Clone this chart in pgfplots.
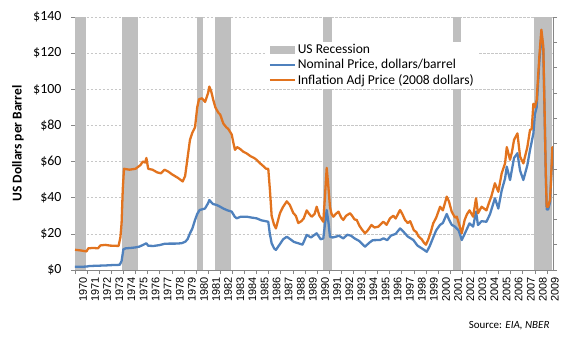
\documentclass[border=0pt]{standalone}
\usepackage{fontspec}
\setmainfont{Carlito}
\newfontfamily\arialf{Liberation Sans}
\usepackage{pgfplots}
\pgfplotsset{compat=1.18}
\definecolor{bandgray}{HTML}{BFBFBF}
\definecolor{nomblue}{HTML}{4F81BD}
\definecolor{adjorange}{HTML}{E2731E}
\definecolor{axgray}{HTML}{868686}
\begin{document}
\begin{tikzpicture}
\begin{axis}[name=ax,
  scale only axis, width=478bp, height=253bp,
  xmin=1970, xmax=2009.5, ymin=0, ymax=140,
  axis x line*=bottom, axis y line*=left,
  axis line style={axgray, line width=0.6pt},
  every tick/.style={axgray, line width=0.6pt},
  tick align=outside, major tick length=4bp,
  xtick={1970,1971,...,2009},
  ytick={0,20,...,140},
  yticklabels={\$0,\$20,\$40,\$60,\$80,\$100,\$120,\$140},
  yticklabel style={font=\fontsize{14}{15}\selectfont, xshift=-6bp},
  xticklabel style={rotate=90, anchor=east, font=\arialf\fontsize{11}{11}\selectfont, yshift=-8bp},
  /pgf/number format/assume math mode=true,
  /pgf/number format/1000 sep={},
  ymajorgrids, major grid style={black!22, dash pattern=on 2.5bp off 1.5bp, line width=0.6pt},
  every axis y label/.style={at={(axis description cs:0,0.5)}, xshift=-57bp, rotate=90, anchor=center},
  ylabel={\bfseries US Dollars per Barrel},
  ylabel style={font=\bfseries\fontsize{13.5}{14}\selectfont},
  legend cell align=left,
  legend style={at={(axis cs:1985.75,126.5)}, anchor=north west, draw=none, fill=white,
    font=\fontsize{13.6}{15}\selectfont, inner xsep=3bp, inner ysep=1bp, row sep=0pt,
    nodes={inner sep=2bp}},
  legend image code/.code={\draw[#1, line width=2pt] (0bp,0bp) -- (25bp,0bp);},
]
\addplot[fill=bandgray, draw=none, legend image code/.code={\fill[bandgray] (0bp,-4bp) rectangle (25bp,4bp);}]
  coordinates {(1970,0) (1970,140) (1970.9,140) (1970.9,0)} -- cycle;
\addlegendentry{US Recession}
\addplot[fill=bandgray, draw=none, forget plot] coordinates {(1973.85,0) (1973.85,140) (1975.2,140) (1975.2,0)} -- cycle;
\addplot[fill=bandgray, draw=none, forget plot] coordinates {(1980.05,0) (1980.05,140) (1980.58,140) (1980.58,0)} -- cycle;
\addplot[fill=bandgray, draw=none, forget plot] coordinates {(1981.55,0) (1981.55,140) (1982.9,140) (1982.9,0)} -- cycle;
\addplot[fill=bandgray, draw=none, forget plot] coordinates {(1990.52,0) (1990.52,140) (1991.22,140) (1991.22,0)} -- cycle;
\addplot[fill=bandgray, draw=none, forget plot] coordinates {(2001.2,0) (2001.2,140) (2001.9,140) (2001.9,0)} -- cycle;
\addplot[fill=bandgray, draw=none, forget plot] coordinates {(2007.96,0) (2007.96,140) (2009.45,140) (2009.45,0)} -- cycle;
% Nominal
\addplot[nomblue, line width=2.3pt, line join=round] coordinates {
(1970.0,1.8)(1970.5,1.8)(1970.95,1.9)(1971.2,2.2)(1971.6,2.3)(1972.0,2.4)(1972.5,2.5)(1973.0,2.7)(1973.5,2.8)(1973.7,2.9)
(1973.85,5)(1974.0,11.5)(1974.2,12)(1974.6,12.2)(1975.0,12.5)(1975.3,12.9)(1975.6,13.8)(1975.9,14.8)(1976.05,13.4)(1976.5,13.3)
(1977.0,13.8)(1977.4,14.5)(1977.8,14.6)(1978.3,14.6)(1978.8,14.8)(1979.1,15.6)(1979.3,17)(1979.5,20.3)(1979.7,23)(1979.92,27.7)
(1980.1,31)(1980.3,33.2)(1980.74,34)(1981.0,37)(1981.1,38.7)(1981.4,36.5)(1981.7,36)(1982.0,35)(1982.26,34)(1982.6,33)
(1982.95,32.3)(1983.2,29.5)(1983.36,28.6)(1983.7,29.5)(1984.19,29.5)(1984.6,29)(1985.0,28.6)(1985.4,27.5)(1985.97,26.7)(1986.1,20)
(1986.25,14.8)(1986.45,12)(1986.6,11.1)(1986.9,14)(1987.2,17)(1987.5,18.4)(1987.8,17)(1988.1,15.5)(1988.45,14.8)(1988.8,14)
(1989.15,19.4)(1989.5,18)(1989.97,20.3)(1990.3,17)(1990.52,17.5)(1990.65,25)(1990.8,33.2)(1990.95,26)(1991.07,18.4)(1991.3,18)
(1991.6,18.5)(1991.8,19)(1992.17,17.5)(1992.5,19.5)(1992.8,19)(1993.1,17.5)(1993.5,16)(1993.97,12.9)(1994.3,15)(1994.6,16.5)
(1995.2,16.6)(1995.5,17.5)(1995.8,16.5)(1996.1,19)(1996.5,20)(1996.86,23)(1997.1,21.5)(1997.5,18.5)(1997.96,16.6)(1998.3,13.5)
(1998.65,12)(1999.07,10.1)(1999.3,13)(1999.6,18)(1999.85,22)(2000.17,25)(2000.4,26)(2000.72,31)(2000.9,28)(2001.13,25)
(2001.4,24)(2001.7,22)(2001.96,16.6)(2002.2,20)(2002.6,25.8)(2002.9,24)(2003.14,32.3)(2003.3,24.9)(2003.6,27)(2004.0,26.7)
(2004.3,31)(2004.7,39.7)(2004.98,34)(2005.26,44)(2005.54,50.7)(2005.68,57.2)(2005.95,49.8)(2006.28,62)(2006.56,64.6)(2006.78,55)
(2007.05,49.8)(2007.38,58)(2007.6,66.4)(2007.88,75.6)(2008.0,86)(2008.15,90)(2008.37,115)(2008.54,131)(2008.7,121)(2008.8,88)
(2008.9,54)(2008.98,33.5)(2009.1,33.5)(2009.26,37.5)(2009.4,58)(2009.45,66)(2009.5,64)
};
\addlegendentry{Nominal Price, dollars/barrel}
% Inflation adjusted
\addplot[adjorange, line width=2.3pt, line join=round] coordinates {
(1970.0,11.2)(1970.5,10.8)(1970.95,10.3)(1971.1,12.0)(1971.5,12.2)(1971.9,12.0)(1972.1,13.6)(1972.5,13.9)(1972.9,13.5)(1973.3,13.4)
(1973.6,13.3)(1973.75,18)(1973.85,26)(1973.95,45)(1974.05,56)(1974.5,55.5)(1975.0,56)(1975.4,58)(1975.6,60)(1975.8,59.5)
(1975.9,62)(1976.05,56)(1976.4,55.5)(1976.8,54)(1977.1,53.5)(1977.4,55.5)(1977.7,54.5)(1978.0,53)(1978.5,51)(1978.9,49)
(1979.1,52)(1979.3,62)(1979.5,72)(1979.7,76)(1979.92,79)(1980.1,90)(1980.25,94.5)(1980.5,95)(1980.75,93)(1981.0,98)
(1981.1,101.5)(1981.25,99)(1981.43,94)(1981.6,90)(1981.85,87)(1982.0,86)(1982.26,81)(1982.5,79)(1982.67,78)(1982.95,75)
(1983.1,70)(1983.22,66.5)(1983.4,68)(1983.64,67)(1983.9,65.5)(1984.19,64.5)(1984.5,63)(1984.8,62)(1985.0,61)(1985.3,59)
(1985.56,57.5)(1985.8,56)(1985.97,56)(1986.1,45)(1986.25,30)(1986.45,25)(1986.6,23)(1986.8,28)(1986.94,31.5)(1987.2,35)
(1987.5,38)(1987.75,36)(1988.04,31.5)(1988.25,30)(1988.45,26)(1988.7,27)(1988.9,28.5)(1989.15,33)(1989.35,31)(1989.56,29.5)
(1989.8,31)(1989.97,35)(1990.2,30)(1990.52,26.7)(1990.65,40)(1990.8,56.5)(1990.95,45)(1991.07,35)(1991.2,31)(1991.35,29.5)
(1991.55,31)(1991.77,32.3)(1992.0,29)(1992.17,27.7)(1992.4,30)(1992.73,31.4)(1992.9,30)(1993.1,28)(1993.28,27.7)(1993.5,24.5)
(1993.7,22.5)(1993.97,20.3)(1994.2,22)(1994.5,24.9)(1994.75,23.5)(1995.07,24)(1995.3,25.5)(1995.48,26.7)(1995.75,25)(1996.03,28.6)
(1996.3,30)(1996.5,28.5)(1996.86,33.2)(1997.05,31)(1997.27,27.7)(1997.5,26)(1997.7,27)(1998.0,22)(1998.2,21)(1998.4,18.5)
(1998.65,17)(1998.85,15)(1999.0,14)(1999.2,17)(1999.4,21)(1999.6,25.8)(1999.85,29)(2000.17,35)(2000.4,33)(2000.72,40.6)
(2000.9,38)(2001.13,32.3)(2001.4,29)(2001.55,29.5)(2001.8,24)(2001.96,20.3)(2002.2,27.7)(2002.4,31)(2002.6,33)(2002.9,29.5)
(2003.14,39.7)(2003.3,31.4)(2003.6,35)(2003.8,34)(2004.0,33)(2004.2,37)(2004.4,40.6)(2004.7,48)(2004.98,43.3)(2005.26,53.5)
(2005.54,59)(2005.68,68)(2005.95,61)(2006.1,65)(2006.28,72)(2006.56,75.6)(2006.78,62.7)(2007.05,59)(2007.38,68)(2007.6,77.5)
(2007.74,78)(2007.88,92)(2008.0,90)(2008.15,94)(2008.37,118)(2008.54,133)(2008.7,123.6)(2008.8,90)(2008.9,55)(2008.98,35)
(2009.1,35)(2009.26,39)(2009.4,60)(2009.45,68)(2009.5,66)
};
\addlegendentry{Inflation Adj Price (2008 dollars)}
\end{axis}
\begin{axis}[at={(ax.south west)}, anchor=south west,
  scale only axis, width=478bp, height=253bp,
  xmin=1970, xmax=2009.5, ymin=0, ymax=10,
  axis x line=none, axis y line*=right,
  axis line style={axgray, line width=0.6pt},
  every tick/.style={axgray, line width=0.6pt},
  tick align=outside, major tick length=4bp,
  ytick={0,1,...,10}, yticklabels={},
]
\addplot[draw=none] coordinates {(1980,5)};
\end{axis}
\node[anchor=base east, font=\fontsize{11}{12}\selectfont] at ([yshift=-58bp]ax.south east) {Source: \textit{EIA, NBER}};
\path[use as bounding box] ([xshift=-75bp,yshift=-70bp]ax.south west) rectangle ([xshift=23bp,yshift=17bp]ax.north east);
\end{tikzpicture}
\end{document}
